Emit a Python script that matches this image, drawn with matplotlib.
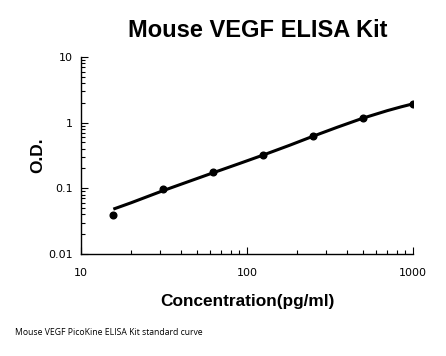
import numpy as np
import matplotlib
matplotlib.use('Agg')
import matplotlib.pyplot as plt
import matplotlib.ticker as mtick

### Data
conc = [15.625, 31.25, 62.5, 125, 250, 500, 1000]          # pg/ml
od = [0.039, 0.098, 0.177, 0.322, 0.634, 1.19, 1.95]

# fitted standard curve
curve_x = [15.625, 20, 31.25, 40, 62.5, 90, 125, 180, 250, 350, 500, 700, 850, 1000]
curve_y = [0.048, 0.060, 0.092, 0.115, 0.172, 0.238, 0.32, 0.45, 0.62, 0.85, 1.17, 1.52, 1.74, 1.93]

xticks = [10, 100, 1000]
yticks = [0.01, 0.1, 1, 10]
ytick_labels = ['0.01', '0.1', '1', '10']

### Plot
fig = plt.figure(figsize=(4.46, 3.56), dpi=100)
ax = fig.add_axes([0.182, 0.287, 0.744, 0.553])

ax.plot(curve_x, curve_y, color='black', lw=2.2, solid_capstyle='butt')
ax.plot(conc, od, 'o', color='black', ms=4.8)

ax.set_xscale('log')
ax.set_yscale('log')
ax.set_xlim(10, 1000)
ax.set_ylim(0.01, 10)

ax.set_xticks(xticks)
ax.xaxis.set_major_formatter(mtick.FixedFormatter([str(t) for t in xticks]))
ax.set_yticks(yticks)
ax.yaxis.set_major_formatter(mtick.FixedFormatter(ytick_labels))
ax.xaxis.set_minor_formatter(mtick.NullFormatter())
ax.yaxis.set_minor_formatter(mtick.NullFormatter())

ax.tick_params(which='both', direction='in', width=0.8, labelsize=8, color='black')
ax.tick_params(which='major', length=5)
ax.tick_params(which='minor', length=3)
ax.tick_params(axis='x', pad=10)
ax.tick_params(axis='y', pad=6)

ax.spines['top'].set_visible(False)
ax.spines['right'].set_visible(False)
ax.spines['left'].set_linewidth(1.0)
ax.spines['bottom'].set_linewidth(1.0)

ax.set_xlabel('Concentration(pg/ml)', fontsize=12.4, fontweight='bold',
              family='Liberation Sans', labelpad=12)
ax.set_ylabel('O.D.', fontsize=12.4, fontweight='bold',
              family='Liberation Sans', labelpad=2)

fig.text(0.578, 0.915, 'Mouse VEGF ELISA Kit', ha='center', va='center',
         fontsize=17, fontweight='bold', family='Liberation Sans')
fig.text(0.034, 0.067, 'Mouse VEGF PicoKine ELISA Kit standard curve',
         ha='left', va='center', fontsize=6.2, family='Open Sans')

fig.savefig('out.png', dpi=100)
